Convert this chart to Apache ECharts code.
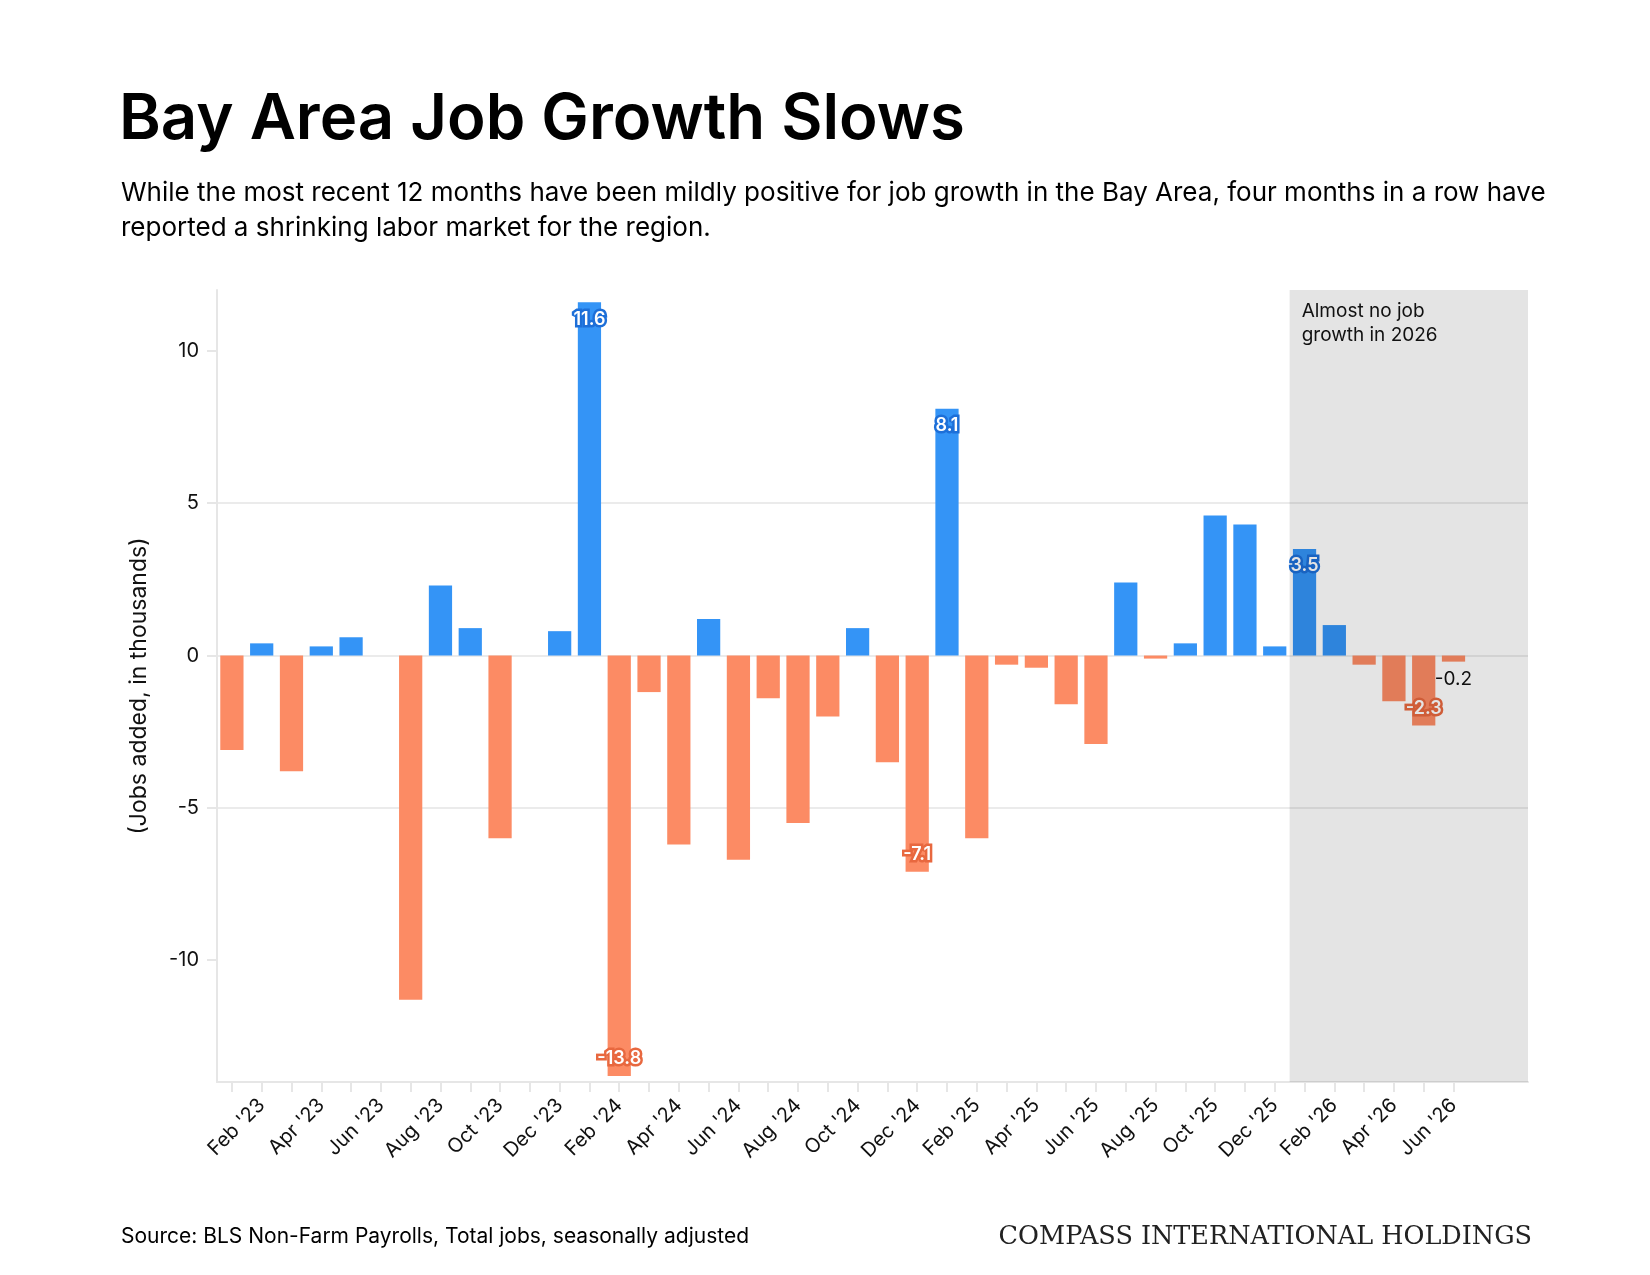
<!DOCTYPE html>
<html>
<head>
<meta charset="utf-8">
<title>Bay Area Job Growth Slows</title>
<script src="https://cdn.jsdelivr.net/npm/echarts@6/dist/echarts.min.js"></script>
<style>
  html, body { margin: 0; padding: 0; background: #fff; }
  #chart { width: 1650px; height: 1275px; }
</style>
</head>
<body>
<div id="chart"></div>
<script>
// month categories (two trailing empty months keep the axis running past Jun '26)
const months = [
  "Jan '23", "Feb '23", "Mar '23", "Apr '23", "May '23", "Jun '23",
  "Jul '23", "Aug '23", "Sep '23", "Oct '23", "Nov '23", "Dec '23",
  "Jan '24", "Feb '24", "Mar '24", "Apr '24", "May '24", "Jun '24",
  "Jul '24", "Aug '24", "Sep '24", "Oct '24", "Nov '24", "Dec '24",
  "Jan '25", "Feb '25", "Mar '25", "Apr '25", "May '25", "Jun '25",
  "Jul '25", "Aug '25", "Sep '25", "Oct '25", "Nov '25", "Dec '25",
  "Jan '26", "Feb '26", "Mar '26", "Apr '26", "May '26", "Jun '26",
  "Jul '26", "Aug '26"
];
// jobs added, in thousands
const jobs = [
  -3.1, 0.4, -3.8, 0.3, 0.6, 0, -11.3, 2.3, 0.9, -6.0, 0, 0.8,
  11.6, -13.8, -1.2, -6.2, 1.2, -6.7, -1.4, -5.5, -2.0, 0.9, -3.5, -7.1,
  8.1, -6.0, -0.3, -0.4, -1.6, -2.9, 2.4, -0.1, 0.4, 4.6, 4.3, 0.3,
  3.5, 1.0, -0.3, -1.5, -2.3, -0.2
];
const yTicks = [-10, -5, 0, 5, 10];
const calloutMonths = ["Jan '24", "Feb '24", "Dec '24", "Jan '25", "Jan '26", "May '26"];
const plainLabelMonths = ["Jun '26"];
const shadeFrom = "Jan '26";

const FONT = 'Inter, "Noto Sans", sans-serif';
const BLUE = '#3494f6', BLUE_DARK = '#1d6fd8';
const ORANGE = '#fc8b64', ORANGE_DARK = '#e8683f';

let chart = echarts.init(document.getElementById('chart'));

let barData = jobs.map((v, i) => {
  let up = v >= 0;
  let item = { value: v, itemStyle: { color: up ? BLUE : ORANGE } };
  if (calloutMonths.indexOf(months[i]) >= 0) {
    item.label = {
      show: true,
      position: up ? 'insideTop' : 'insideBottom',
      distance: 8,
      color: '#fff',
      fontSize: 18,
      fontWeight: 600,
      fontFamily: FONT,
      textBorderColor: up ? BLUE_DARK : ORANGE_DARK,
      textBorderWidth: 5
    };
  } else if (plainLabelMonths.indexOf(months[i]) >= 0) {
    item.label = {
      show: true,
      position: up ? 'top' : 'bottom',
      distance: 8,
      color: '#111',
      fontSize: 19,
      fontFamily: FONT
    };
  }
  return item;
});

let option = {
  backgroundColor: '#fff',
  animation: false,
  title: [
    {
      text: 'Bay Area Job Growth Slows',
      left: 114, top: 83,
      textStyle: { fontFamily: FONT, fontSize: 63.5, fontWeight: 600, color: '#000' }
    },
    {
      text: 'While the most recent 12 months have been mildly positive for job growth in the Bay Area, four months in a row have\nreported a shrinking labor market for the region.',
      left: 116, top: 171,
      textStyle: { fontFamily: FONT, fontSize: 26, fontWeight: 400, color: '#000', lineHeight: 35 }
    },
    {
      text: 'Source: BLS Non-Farm Payrolls, Total jobs, seasonally adjusted',
      left: 116, top: 1221,
      textStyle: { fontFamily: FONT, fontSize: 21, fontWeight: 400, color: '#000' }
    },
    {
      text: 'COMPASS INTERNATIONAL HOLDINGS',
      right: 113, top: 1219,
      textStyle: { fontFamily: '"DejaVu Serif", "Liberation Serif", serif', fontSize: 25.5, fontWeight: 400, color: '#222' }
    }
  ],
  grid: { left: 217, right: 122, top: 290, bottom: 193, containLabel: false },
  xAxis: [
    {
      type: 'category',
      data: months,
      boundaryGap: true,
      axisLine: { onZero: false, lineStyle: { color: '#e6e6e6', width: 2 } },
      axisTick: {
        show: true, length: 10, alignWithLabel: true,
        interval: (idx) => idx < jobs.length,
        lineStyle: { color: '#e6e6e6', width: 2 }
      },
      axisLabel: {
        rotate: 45, margin: 20,
        interval: (idx) => idx < jobs.length && idx % 2 === 1,
        color: '#111', fontSize: 20, fontFamily: FONT
      },
      splitLine: { show: false }
    },
    {
      // helper axis for the shaded 2026 band, in month units
      type: 'value', min: 0, max: months.length, show: false
    }
  ],
  yAxis: {
    type: 'value',
    min: -14, max: 12,
    name: '(Jobs added, in thousands)',
    nameLocation: 'middle',
    nameGap: 66,
    nameTextStyle: { fontFamily: FONT, fontSize: 23, color: '#111' },
    axisLine: { show: true, lineStyle: { color: '#e6e6e6', width: 2 } },
    axisTick: { show: true, length: 10, customValues: yTicks, lineStyle: { color: '#e6e6e6', width: 2 } },
    axisLabel: { customValues: yTicks, margin: 18, color: '#111', fontSize: 20, fontFamily: FONT },
    splitLine: { show: true, showMinLine: false, showMaxLine: false, lineStyle: { color: '#ebebeb', width: 2 } }
  },
  series: [
    {
      type: 'bar',
      data: barData,
      barCategoryGap: '22%',
      z: 2
    },
    {
      type: 'line',
      xAxisIndex: 1,
      data: [],
      silent: true,
      z: 5,
      markArea: {
        silent: true,
        z: 5,
        itemStyle: { color: 'rgba(0,0,0,0.105)' },
        label: {
          show: true,
          position: 'insideTopLeft',
          distance: 9,
          offset: [3, 0],
          color: '#111',
          fontSize: 19,
          lineHeight: 24,
          fontFamily: FONT,
          formatter: 'Almost no job\ngrowth in 2026'
        },
        data: [[{ xAxis: months.indexOf(shadeFrom) }, { xAxis: months.length }]]
      }
    }
  ]
};

chart.setOption(option);
</script>
</body>
</html>
